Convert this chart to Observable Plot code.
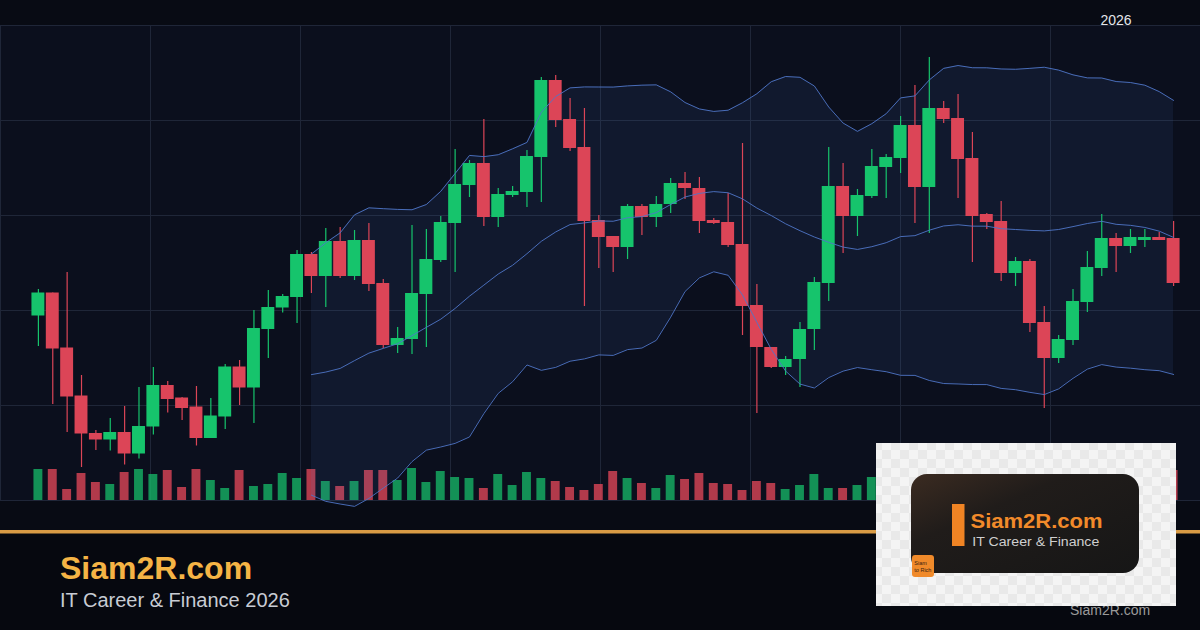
<!DOCTYPE html>
<html>
<head>
<meta charset="utf-8">
<script src="https://cdn.jsdelivr.net/npm/d3@7"></script>
<script src="https://cdn.jsdelivr.net/npm/@observablehq/plot@0.6"></script>
<style>
html,body{margin:0;padding:0;background:#080b14;}
#wrap{position:relative;width:1200px;height:630px;overflow:hidden;background:#080b14;font-family:"Liberation Sans",Arial,sans-serif;}
#wrap > div, #wrap > svg{position:absolute;left:0;top:0;}
#wrap svg{max-width:none;}
</style>
</head>
<body>
<div id="wrap">
  <div id="bg"></div>
  <div id="vol"></div>
  <div id="price"></div>
  <svg id="overlay" width="1200" height="630" viewBox="0 0 1200 630">
    <defs>
      <pattern id="chk" width="18" height="18" patternUnits="userSpaceOnUse">
        <rect width="18" height="18" fill="#f4f4f4"/>
        <rect width="9" height="9" fill="#e9e9e9"/>
        <rect x="9" y="9" width="9" height="9" fill="#e9e9e9"/>
      </pattern>
      <linearGradient id="logoBg" x1="0" y1="0" x2="1" y2="1">
        <stop offset="0" stop-color="#3b2b21"/>
        <stop offset="0.35" stop-color="#201c1a"/>
        <stop offset="1" stop-color="#161616"/>
      </linearGradient>
    </defs>
    <rect x="0" y="533" width="1200" height="97" fill="#06080f"/>
    <rect x="0" y="530" width="1200" height="3.5" fill="#d99b45"/>
    <text x="60" y="579" font-family="Liberation Sans, Arial, sans-serif" font-weight="700" font-size="32" fill="#f5b445">Siam2R.com</text>
    <text x="60" y="607" font-family="Liberation Sans, Arial, sans-serif" font-size="20" fill="#c8ccd4">IT Career &amp; Finance 2026</text>
    <text x="1116" y="24.5" text-anchor="middle" font-family="Liberation Sans, Arial, sans-serif" font-size="14" fill="#e4e6ea">2026</text>
    <text x="1070" y="615" font-family="Liberation Sans, Arial, sans-serif" font-size="14" fill="#9a9a9a">Siam2R.com</text>
    <rect x="876" y="443" width="300" height="163" fill="url(#chk)"/>
    <rect x="911" y="474" width="228" height="99" rx="16" fill="url(#logoBg)"/>
    <rect x="952" y="504" width="12.5" height="42" fill="#f08424"/>
    <text x="970.5" y="528.3" font-family="Liberation Sans, Arial, sans-serif" font-weight="700" font-size="20.5" fill="#f28a2a" textLength="132" lengthAdjust="spacingAndGlyphs">Siam2R.com</text>
    <text x="972.3" y="545.5" font-family="Liberation Sans, Arial, sans-serif" font-size="12.5" fill="#cfcfcf" textLength="127" lengthAdjust="spacingAndGlyphs">IT Career &amp; Finance</text>
    <rect x="912" y="555" width="22" height="22" rx="3" fill="#f08a2a"/>
    <text x="914.3" y="565" font-family="Liberation Sans, Arial, sans-serif" font-size="5.5" fill="#3a2010">Siam</text>
    <text x="914.3" y="572" font-family="Liberation Sans, Arial, sans-serif" font-size="5.5" fill="#3a2010">to Rich</text>
  </svg>
</div>
<script>
// ---- data (price units; volume in millions) ----
const opens = [
  136.9,141.5,130.5,120.9,113.4,112.1,113.6,109.3,114.7,123.0,
  120.5,118.7,112.4,116.7,126.7,122.5,134.2,138.5,140.6,149.2,
  144.8,151.8,144.8,152.0,143.4,131.0,132.2,141.2,148.0,155.4,
  163.0,167.4,156.6,161.0,161.6,168.6,184.0,176.2,170.6,156.0,
  152.8,150.6,158.8,156.6,159.2,163.4,162.4,156.0,155.6,151.2,
  139.0,130.6,126.6,128.2,134.2,143.4,162.8,156.8,160.8,166.6,
  168.4,175.0,162.6,178.4,176.4,168.4,157.2,155.8,145.4,147.8,
  135.6,128.4,132.0,139.6,146.4,152.4,150.8,152.0,152.6,152.4
];
const closes = [
  141.5,130.3,120.7,113.3,112.1,113.6,109.3,114.8,123.0,120.2,
  118.4,112.4,116.9,126.7,122.5,134.4,138.6,140.8,149.2,144.8,
  151.8,144.8,152.0,143.2,131.0,132.4,141.4,148.2,155.6,163.2,
  167.4,156.6,161.2,161.8,168.8,184.0,176.0,170.4,155.8,152.6,
  150.6,158.8,156.6,159.2,163.4,162.4,155.8,155.4,151.0,138.8,
  130.6,126.6,128.2,134.2,143.6,162.8,156.8,161.0,166.8,168.6,
  175.0,162.6,178.4,176.2,168.2,156.8,155.6,145.4,147.8,135.4,
  128.4,132.2,139.8,146.6,152.4,150.8,152.6,152.6,152.0,143.4
];
const highs = [
  142.2,141.5,145.6,125.0,114.0,116.4,118.8,122.6,126.6,123.8,
  120.6,122.8,120.4,127.2,128.0,138.0,142.0,141.2,150.0,149.6,
  154.4,154.6,154.0,155.4,144.2,134.6,155.0,154.2,156.8,170.2,
  168.0,176.2,162.4,162.8,170.0,184.6,185.0,180.4,178.4,157.0,
  152.8,159.2,159.2,160.8,164.4,165.6,164.6,156.4,161.4,171.4,
  143.2,130.6,128.8,135.6,144.6,170.6,167.4,162.2,170.2,169.2,
  176.8,183.0,188.6,179.8,181.2,173.6,157.4,159.8,148.6,148.2,
  138.8,133.0,142.2,149.8,157.2,153.4,154.2,154.2,153.6,155.8
];
const lows = [
  130.8,119.2,113.6,106.6,110.0,109.9,107.1,108.3,113.1,117.5,
  116.0,110.9,112.4,114.2,119.0,115.4,128.4,137.5,135.4,141.4,
  138.6,144.4,144.0,141.8,130.4,129.4,129.2,130.6,147.6,145.6,
  160.6,154.8,154.6,160.6,158.6,159.6,174.6,169.8,138.8,146.4,
  145.6,148.2,153.0,154.6,157.4,160.2,153.4,155.2,150.6,133.0,
  117.4,126.4,125.0,122.6,130.0,139.8,149.4,152.8,160.4,160.4,
  165.4,155.4,153.4,175.4,160.4,147.6,154.2,143.8,142.8,133.6,
  118.4,127.4,131.0,137.6,144.8,145.6,149.4,150.6,152.0,142.8
];
const volumes = [
  3.1,3.1,1.1,2.7,1.8,1.6,2.8,3.1,2.6,3.0,
  1.3,3.1,2.0,1.2,3.0,1.4,1.6,2.7,2.2,3.1,
  1.9,1.4,1.9,3.0,3.0,2.0,3.2,1.8,2.9,2.3,
  2.2,1.2,2.6,1.5,2.8,2.2,1.9,1.3,1.0,1.6,
  2.9,2.2,1.7,1.2,2.5,2.1,2.7,1.7,1.6,1.0,
  1.9,1.7,1.1,1.5,2.6,1.2,1.2,1.5,2.3,1.8,
  2.4,2.8,3.1,1.4,2.2,2.7,1.3,2.5,1.6,2.6,
  3.0,1.7,2.1,2.4,1.9,1.2,1.4,1.1,1.0,3.0
];
const priceGridTicks = [100, 119, 138, 157, 176, 195];
const sectionTicks = [0, 1, 2, 3, 4, 5, 6, 7, 8];
const bandPeriod = 20, bandWidthK = 2;

// ---- styles ----
const GREEN = "#16c46c", RED = "#dc4557", BAND = "#4f76c8", GRID = "#1f2638";
const HALF = 0.45, VHALF = 0.31;

const rows = closes.map((c, i) => ({i, open: opens[i], high: highs[i], low: lows[i], close: c, volume: volumes[i]}));
const upRows = rows.filter(d => d.close >= d.open);
const downRows = rows.filter(d => d.close < d.open);

const xCfg = {domain: [-0.55, 79.55], axis: null};
const common = {width: 1200, height: 630, marginLeft: 30, marginRight: 19, marginTop: 25, marginBottom: 130,
  style: {background: "transparent", overflow: "visible"}};

// Bollinger reducers (applied by Plot's window transform)
const sd = v => { const m = d3.mean(v); return Math.sqrt(d3.mean(v, x => (x - m) ** 2)); };
const mid = v => v.length < bandPeriod ? NaN : d3.mean(v);
const upper = v => v.length < bandPeriod ? NaN : d3.mean(v) + bandWidthK * sd(v);
const lower = v => v.length < bandPeriod ? NaN : d3.mean(v) - bandWidthK * sd(v);
const win = reduce => ({k: bandPeriod, anchor: "end", reduce});

// background grid
const bg = Plot.plot({
  width: 1200, height: 630, marginLeft: 0, marginRight: 0, marginTop: 25, marginBottom: 130,
  style: {background: "transparent"},
  x: {domain: [0, 8], axis: null},
  y: {domain: [100, 195], axis: null},
  marks: [
    Plot.frame({fill: "#0b0f1d", stroke: null}),
    Plot.ruleX(sectionTicks, {stroke: GRID, strokeWidth: 1}),
    Plot.ruleY(priceGridTicks, {stroke: GRID, strokeWidth: 1})
  ]
});
document.getElementById("bg").appendChild(bg);

// volume
const vol = Plot.plot({
  ...common,
  marginTop: 460,
  x: xCfg,
  y: {domain: [0, 4], axis: null},
  marks: [
    Plot.rect(upRows, {x1: d => d.i - VHALF, x2: d => d.i + VHALF, y1: 0, y2: "volume", fill: GREEN, fillOpacity: 0.72}),
    Plot.rect(downRows, {x1: d => d.i - VHALF, x2: d => d.i + VHALF, y1: 0, y2: "volume", fill: RED, fillOpacity: 0.8})
  ]
});
document.getElementById("vol").appendChild(vol);

// price
const price = Plot.plot({
  ...common,
  x: xCfg,
  y: {domain: [100, 195], axis: null},
  marks: [
    Plot.areaY(rows, Plot.map({y1: Plot.window(win(upper)), y2: Plot.window(win(lower))},
      {x: "i", y1: "close", y2: "close", fill: BAND, fillOpacity: 0.1})),
    Plot.ruleX(upRows, {x: "i", y1: "low", y2: "high", stroke: GREEN, strokeWidth: 1.2}),
    Plot.ruleX(downRows, {x: "i", y1: "low", y2: "high", stroke: RED, strokeWidth: 1.2}),
    Plot.rect(upRows, {x1: d => d.i - HALF, x2: d => d.i + HALF, y1: "open", y2: "close", fill: GREEN}),
    Plot.rect(downRows, {x1: d => d.i - HALF, x2: d => d.i + HALF, y1: "open", y2: "close", fill: RED}),
    Plot.lineY(rows, Plot.windowY(win(upper), {x: "i", y: "close", stroke: BAND, strokeWidth: 1, strokeOpacity: 0.9})),
    Plot.lineY(rows, Plot.windowY(win(mid), {x: "i", y: "close", stroke: BAND, strokeWidth: 1, strokeOpacity: 0.9})),
    Plot.lineY(rows, Plot.windowY(win(lower), {x: "i", y: "close", stroke: BAND, strokeWidth: 1, strokeOpacity: 0.9}))
  ]
});
document.getElementById("price").appendChild(price);
</script>
</body>
</html>
